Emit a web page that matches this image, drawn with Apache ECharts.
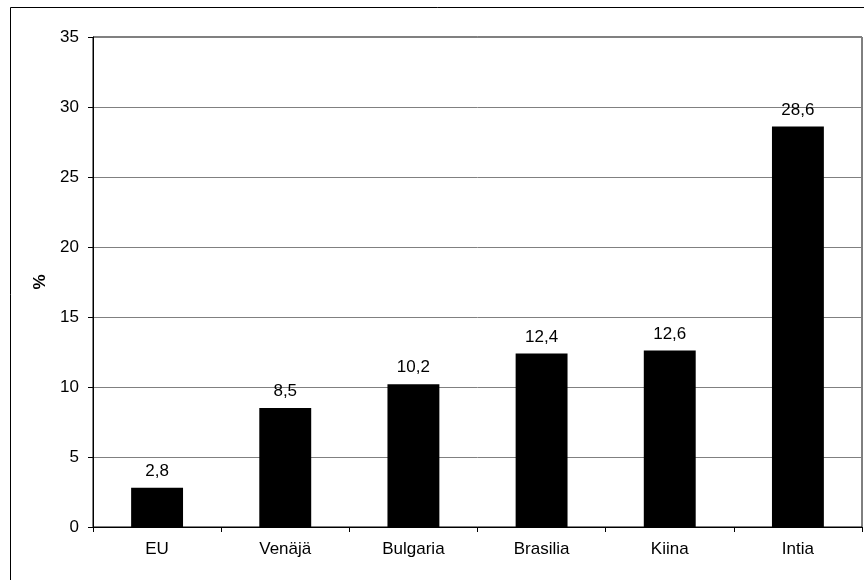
<!DOCTYPE html>
<html>
<head>
<meta charset="utf-8">
<script src="https://cdn.jsdelivr.net/npm/echarts@6/dist/echarts.min.js"></script>
<style>
html,body{margin:0;padding:0;background:#fff;}
#chart{width:864px;height:580px;}
</style>
</head>
<body>
<div id="chart"></div>
<script>
const categories = ['EU', 'Venäjä', 'Bulgaria', 'Brasilia', 'Kiina', 'Intia'];
const values = [2.8, 8.5, 10.2, 12.4, 12.6, 28.6];
const yAxisName = '%';

const FONT = '"Liberation Sans", Arial, sans-serif';
const chart = echarts.init(document.getElementById('chart'), null, {renderer: 'canvas'});
chart.setOption({
  animation: false,
  backgroundColor: '#fff',
  graphic: [{
    type: 'rect',
    shape: {x: 10.5, y: 7.5, width: 880, height: 600},
    style: {fill: 'none', stroke: '#000', lineWidth: 1},
    silent: true, z: 100
  }],
  grid: {
    left: 93, top: 37, right: 2, bottom: 53,
    show: true, borderColor: '#000', borderWidth: 1, backgroundColor: 'transparent'
  },
  xAxis: {
    type: 'category',
    data: categories,
    axisLine: {lineStyle: {color: '#000', width: 1}},
    axisTick: {show: true, length: 5, alignWithLabel: false, lineStyle: {color: '#000'}},
    axisLabel: {color: '#000', fontFamily: FONT, fontSize: 17, margin: 14}
  },
  yAxis: {
    type: 'value',
    min: 0, max: 35, interval: 5,
    name: yAxisName,
    nameLocation: 'middle',
    nameGap: 44,
    nameRotate: 90,
    nameTextStyle: {color: '#000', fontFamily: FONT, fontSize: 17, fontWeight: 'bold'},
    axisLine: {show: true, lineStyle: {color: '#000', width: 1}},
    axisTick: {show: true, length: 5, lineStyle: {color: '#000'}},
    axisLabel: {color: '#000', fontFamily: FONT, fontSize: 17, margin: 14},
    splitLine: {show: true, lineStyle: {color: '#808080', width: 1}}
  },
  series: [{
    type: 'bar',
    data: values,
    barWidth: '40.5%',
    itemStyle: {color: '#000'},
    label: {
      show: true,
      position: 'top',
      distance: 8,
      color: '#000',
      fontFamily: FONT,
      fontSize: 17,
      formatter: p => String(p.value).replace('.', ',')
    }
  }]
});
</script>
</body>
</html>
